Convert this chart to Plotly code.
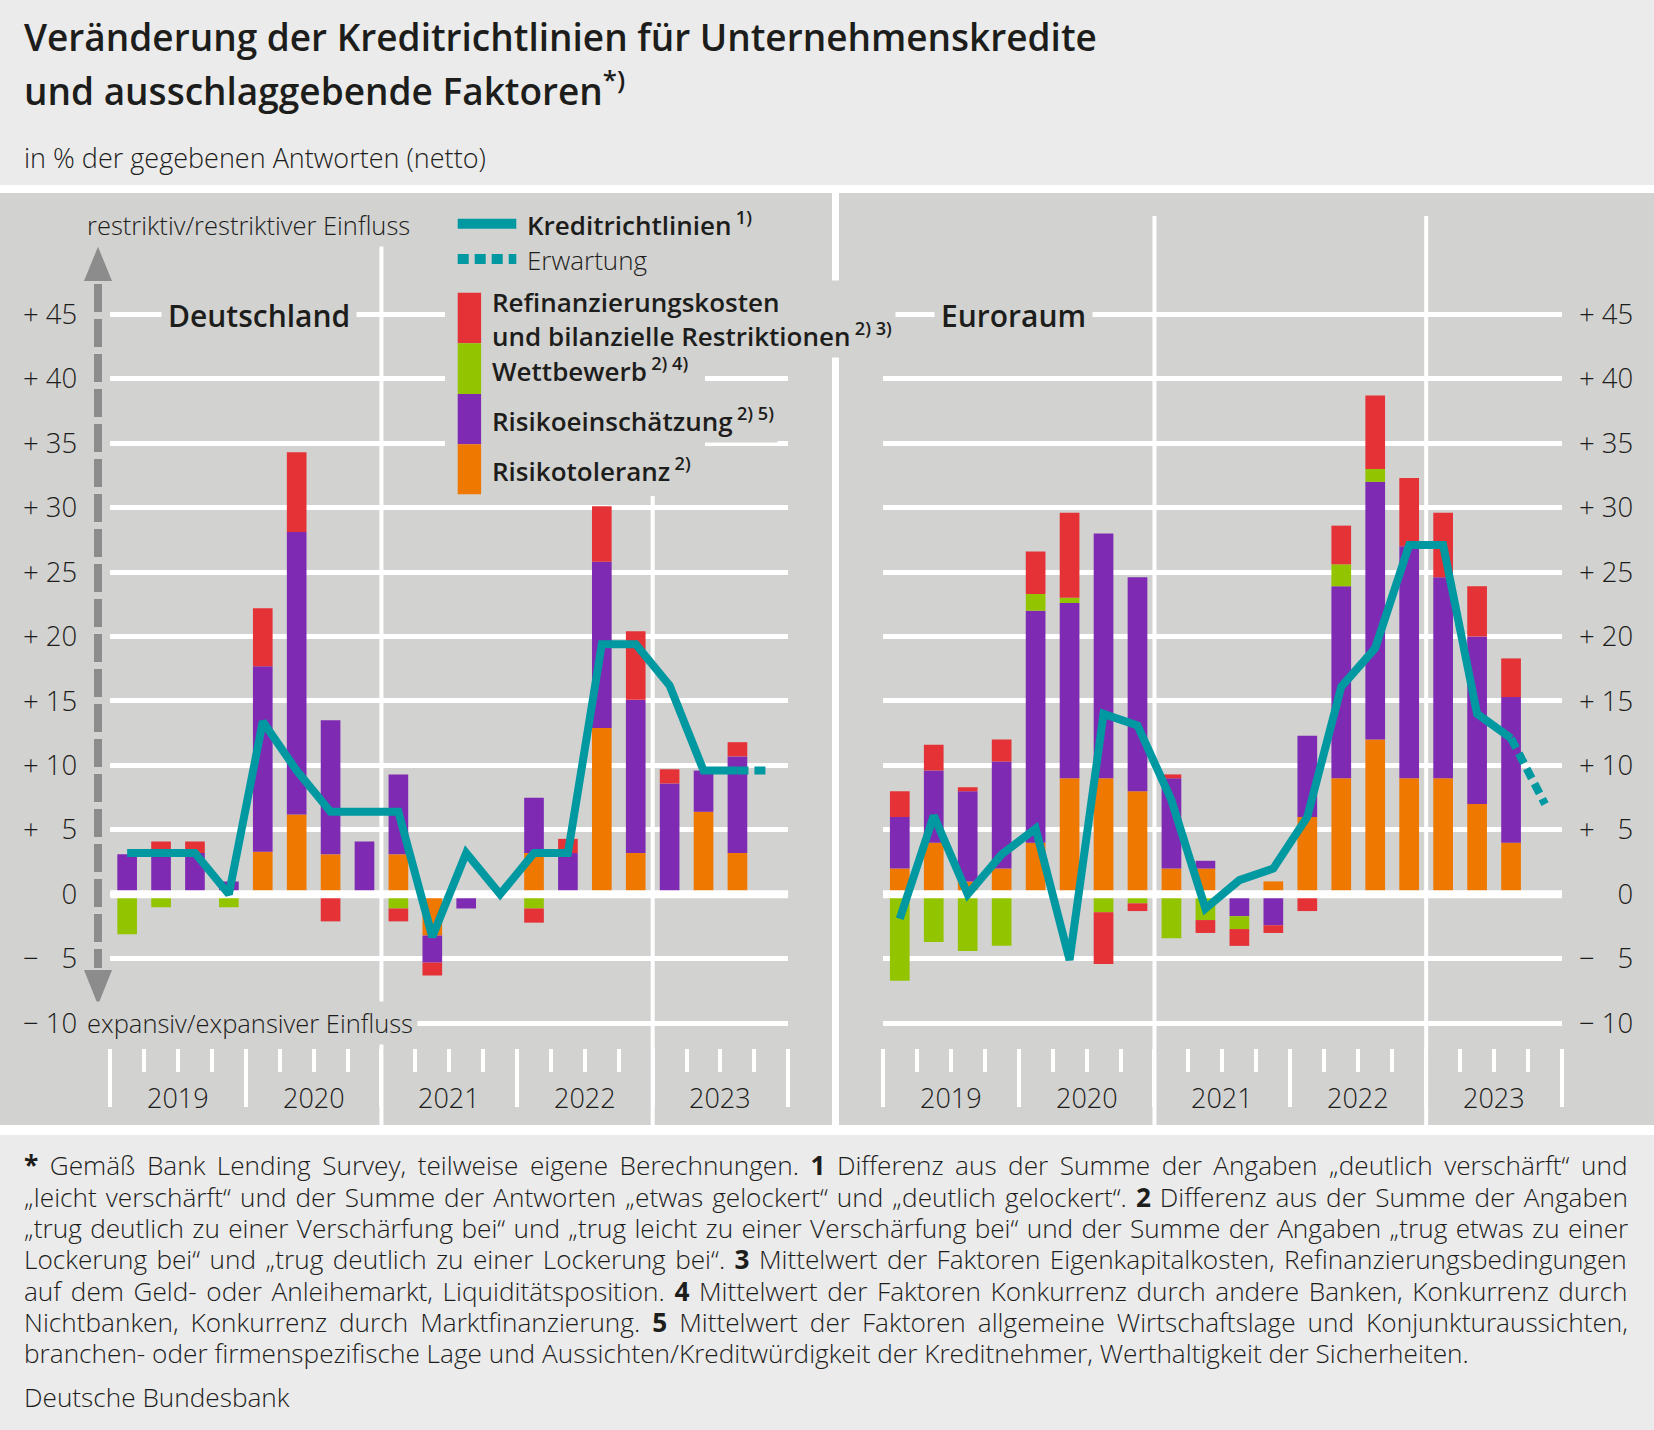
import plotly.graph_objects as go

# ---------------- data ----------------
quarters = ["2019 Q1", "2019 Q2", "2019 Q3", "2019 Q4",
            "2020 Q1", "2020 Q2", "2020 Q3", "2020 Q4",
            "2021 Q1", "2021 Q2", "2021 Q3", "2021 Q4",
            "2022 Q1", "2022 Q2", "2022 Q3", "2022 Q4",
            "2023 Q1", "2023 Q2", "2023 Q3", "2023 Q4"]
years = ["2019", "2020", "2021", "2022", "2023"]

# Deutschland (2019 Q1 - 2023 Q3)
de_risikotoleranz = [0, 0, 0, 0, 3.3, 6.2, 3.1, 0, 3.1, -3.2, 0, 0, 3.2, 0, 12.9, 3.2, 0, 6.4, 3.2]
de_risikoeinschaetzung = [3.1, 3.2, 3.2, 1.0, 14.4, 21.9, 10.4, 4.1, 6.2, -2.1, -1.1, 0, 4.3, 3.2, 12.9, 11.9, 8.6, 3.2, 7.5]
de_wettbewerb = [-3.1, -1.0, 0, -1.0, 0, 0, 0, 0, -1.1, 0, 0, 0, -1.1, 0, 0, 0, 0, 0, 0]
de_refinanzierung = [0, 0.9, 0.9, 0, 4.5, 6.2, -2.1, 0, -1.0, -1.0, 0, 0, -1.1, 1.1, 4.3, 5.3, 1.1, 0, 1.1]
de_kreditrichtlinien = [3.2, 3.2, 3.2, 0, 13.4, 9.6, 6.4, 6.4, 6.4, -3.3, 3.2, 0, 3.2, 3.2, 19.4, 19.4, 16.2, 9.6, 9.6]
de_erwartung = 9.6  # 2023 Q4

# Euroraum (2019 Q1 - 2023 Q3)
ea_risikotoleranz = [2.0, 4.0, 1.0, 2.0, 4.0, 9.0, 9.0, 8.0, 2.0, 2.0, 0, 1.0, 6.0, 9.0, 12.0, 9.0, 9.0, 7.0, 4.0]
ea_risikoeinschaetzung = [4.0, 5.6, 7.0, 8.3, 18.0, 13.6, 19.0, 16.6, 7.0, 0.6, -1.7, -2.4, 6.3, 14.9, 20.0, 18.0, 15.6, 13.0, 11.3]
ea_wettbewerb = [-6.7, -3.7, -4.4, -4.0, 1.3, 0.4, -1.4, -0.7, -3.4, -2.0, -1.0, 0, 0, 1.7, 1.0, 0, 0, 0, 0]
ea_refinanzierung = [2.0, 2.0, 0.3, 1.7, 3.3, 6.6, -4.0, -0.6, 0.3, -1.0, -1.3, -0.6, -1.3, 3.0, 5.7, 5.3, 5.0, 3.9, 3.0]
ea_kreditrichtlinien = [-1.9, 6.1, 0, 3.1, 5.1, -5.1, 14.0, 13.1, 7.3, -1.1, 1.1, 2.0, 6.0, 16.1, 19.1, 27.1, 27.1, 14.0, 12.1]
ea_erwartung = 7.0  # 2023 Q4

y_ticks = [-10, -5, 0, 5, 10, 15, 20, 25, 30, 35, 40, 45]

# ---------------- style ----------------
W, H = 1654, 1430
FONT = "Open Sans"
TXT = "#1d1d1b"
OUTER = "#ebebeb"
PANEL = "#d2d2d1"
TEAL = "#0098a1"
RED = "#e43237"
GREEN = "#92c400"
PURPLE = "#7f2ab2"
ORANGE = "#ef7800"
ARROW = "#8c8c8c"


def px(x):
    return x / W


def py(y):
    return 1 - y / H


X_DE = (110.2, 788.3)
X_EA = (882.8, 1562.0)
Y_TOP, Y_BOT = 216.0, 1047.7
Y_ZERO_PX, PX_PER_UNIT = 894.3, 12.89
y_range = [(Y_ZERO_PX - Y_BOT) / PX_PER_UNIT, (Y_ZERO_PX - Y_TOP) / PX_PER_UNIT]

n_q = len(quarters)
x_range = [0, n_q]
xpos = [i + 0.5 for i in range(n_q)]
n_obs = len(de_kreditrichtlinien)
year_bounds = list(range(0, n_q + 1, 4))
quarter_bounds = [b for b in range(n_q + 1) if b % 4]
year_centers = [b + 2 for b in year_bounds[:-1]]


def fmt_tick(v, pad_left=False):
    if v == 0:
        return ("\u2007\u00a0\u20070" if pad_left else "0")
    sign = "+" if v > 0 else "\u2212"
    num = str(abs(v))
    if len(num) == 1:
        num = "\u2007" + num
    return sign + "\u00a0" + num


fig = go.Figure()

panels = [
    ("x", "y", de_risikotoleranz, de_risikoeinschaetzung, de_wettbewerb, de_refinanzierung,
     de_kreditrichtlinien, de_erwartung),
    ("x2", "y2", ea_risikotoleranz, ea_risikoeinschaetzung, ea_wettbewerb, ea_refinanzierung,
     ea_kreditrichtlinien, ea_erwartung),
]

for xa, ya, tol, risk, wett, refi, line, exp in panels:
    for vals, col, nm in [(tol, ORANGE, "Risikotoleranz"),
                          (risk, PURPLE, "Risikoeinschätzung"),
                          (wett, GREEN, "Wettbewerb"),
                          (refi, RED, "Refinanzierungskosten und bilanzielle Restriktionen")]:
        fig.add_trace(go.Bar(x=xpos[:n_obs], y=vals, name=nm, marker=dict(color=col, line=dict(width=0)),
                             width=0.58, xaxis=xa, yaxis=ya, showlegend=False))
    # zero line (drawn over bars, under the credit-standards line)
    fig.add_trace(go.Scatter(x=x_range, y=[0, 0], mode="lines", line=dict(color="white", width=8),
                             xaxis=xa, yaxis=ya, hoverinfo="skip", showlegend=False))
    fig.add_trace(go.Scatter(x=xpos[:n_obs], y=line, mode="lines", name="Kreditrichtlinien",
                             line=dict(color=TEAL, width=8), xaxis=xa, yaxis=ya, showlegend=False))
    fig.add_trace(go.Scatter(x=[xpos[n_obs - 1], xpos[n_obs]], y=[line[-1], exp], mode="lines",
                             name="Erwartung", line=dict(color=TEAL, width=8, dash="11px,6px"),
                             xaxis=xa, yaxis=ya, showlegend=False))

tickfont = dict(family=FONT, size=27.5, color=TXT, weight=300)

xaxis_common = dict(range=x_range, showgrid=False, zeroline=False, showline=False, showticklabels=False,
                    ticks="outside", tickvals=year_bounds, ticklen=58, tickwidth=4, tickcolor="white",
                    minor=dict(tickvals=quarter_bounds, ticks="outside", ticklen=23, tickwidth=4,
                               tickcolor="white", showgrid=False),
                    fixedrange=True)
yaxis_common = dict(range=y_range, domain=[py(Y_BOT), py(Y_TOP)], tickvals=y_ticks, showgrid=True,
                    gridcolor="white", gridwidth=5, zeroline=False, showline=False, ticks="",
                    tickfont=tickfont, fixedrange=True)

fig.update_layout(
    width=W, height=H, margin=dict(l=0, r=0, t=0, b=0),
    paper_bgcolor=OUTER, plot_bgcolor="rgba(0,0,0,0)",
    barmode="relative", showlegend=False,
    xaxis=dict(domain=[px(X_DE[0]), px(X_DE[1])], anchor="y", **xaxis_common),
    xaxis2=dict(domain=[px(X_EA[0]), px(X_EA[1])], anchor="y2", **xaxis_common),
    yaxis=dict(anchor="x", ticktext=[fmt_tick(v) for v in y_ticks], ticklabelstandoff=32, **yaxis_common),
    yaxis2=dict(anchor="x2", side="right", ticktext=[fmt_tick(v, True) for v in y_ticks],
                ticklabelstandoff=16, **yaxis_common),
)

# ---------------- shapes ----------------
shapes = []


def rect(x0, y0, x1, y1, color, layer="below"):
    return dict(type="rect", xref="paper", yref="paper", x0=px(x0), x1=px(x1), y0=py(y1), y1=py(y0),
                fillcolor=color, line=dict(width=0), layer=layer)


shapes.append(rect(0, 185, W, 1135, "white"))
shapes.append(rect(0, 193, 832, 1125, PANEL))
shapes.append(rect(839, 193, W, 1125, PANEL))

for xa in ["x", "x2"]:
    for b in year_bounds[2:-1:2]:
        shapes.append(dict(type="line", xref=xa, yref="paper", x0=b, x1=b, y0=py(1125), y1=py(Y_TOP),
                           line=dict(color="white", width=4), layer="below"))

# legend background + swatches
shapes.append(rect(445, 205, 705, 496, PANEL, layer="above"))
shapes.append(dict(type="line", xref="paper", yref="paper", x0=px(457.7), x1=px(516.3),
                   y0=py(223.7), y1=py(223.7), line=dict(color=TEAL, width=10), layer="above"))
shapes.append(dict(type="line", xref="paper", yref="paper", x0=px(457.7), x1=px(516.3),
                   y0=py(259), y1=py(259), line=dict(color=TEAL, width=10, dash="11px,6px"), layer="above"))
for (y0, y1, col) in [(292.7, 343.3, RED), (343.3, 394.0, GREEN), (394.0, 444.3, PURPLE), (444.3, 494.3, ORANGE)]:
    shapes.append(rect(457.7, y0, 481.1, y1, col, layer="above"))

# vertical arrow
shapes.append(dict(type="line", xref="paper", yref="paper", x0=px(98), x1=px(98), y0=py(284), y1=py(968),
                   line=dict(color=ARROW, width=8, dash="28px,7px"), layer="above"))
shapes.append(dict(type="path", xref="paper", yref="paper",
                   path=f"M {px(98)} {py(246.7)} L {px(112)} {py(281)} L {px(84)} {py(281)} Z",
                   fillcolor=ARROW, line=dict(width=0), layer="above"))
shapes.append(dict(type="path", xref="paper", yref="paper",
                   path=f"M {px(98)} {py(1005)} L {px(112)} {py(970)} L {px(84)} {py(970)} Z",
                   fillcolor=ARROW, line=dict(width=0), layer="above"))

fig.update_layout(shapes=shapes)

# ---------------- annotations ----------------
ann = []


def text(x, y, s, size, weight=300, bg=None, xanchor="left", xref="paper", pad=1, color=TXT):
    d = dict(x=(px(x) if xref == "paper" else x), y=py(y), xref=xref, yref="paper", text=s,
             showarrow=False, xanchor=xanchor, yanchor="middle", align="left",
             font=dict(family=FONT, size=size, color=color, weight=weight), borderpad=pad)
    if bg:
        d["bgcolor"] = bg
    ann.append(d)


# title
text(22, 37, "Veränderung der Kreditrichtlinien für Unternehmenskredite", 37, 600)
text(22, 88, "und ausschlaggebende Faktoren<sup>*)</sup>", 37, 600)
text(22, 157, "in % der gegebenen Antworten (netto)", 27, 300)

# panel labels
text(161, 315, "Deutschland", 30, 600, bg=PANEL, pad=6)
text(934, 315, "Euroraum", 30, 600, bg=PANEL, pad=6)
text(82, 225, "restriktiv/restriktiver Einfluss", 25.5, 300, bg=PANEL, pad=4)
text(82, 1023, "expansiv/expansiver Einfluss", 25.5, 300, bg=PANEL, pad=4)

# legend
text(524, 224, "Kreditrichtlinien\u2009<sup>1)</sup>", 26, 600, bg=PANEL, pad=2)
text(524, 260, "Erwartung", 26, 300, bg=PANEL, pad=2)
text(488, 319, "Refinanzierungskosten<br>und bilanzielle Restriktionen\u2009<sup>2) 3)</sup>", 26, 600,
     bg=PANEL, pad=3)
text(488, 370, "Wettbewerb\u2009<sup>2) 4)</sup>", 26, 600, bg=PANEL, pad=3)
text(488, 420, "Risikoeinschätzung\u2009<sup>2) 5)</sup>", 26, 600, bg=PANEL, pad=3)
text(488, 470, "Risikotoleranz\u2009<sup>2)</sup>", 26, 600, bg=PANEL, pad=3)

# year labels
for xa in ["x", "x2"]:
    for yc, yl in zip(year_centers, years):
        text(yc, 1097, yl, 27, 300, xanchor="center", xref=xa)

# footnotes (justified via word spacing)
foot = [
    "<b>*</b> Gemäß Bank Lending Survey, teilweise eigene Berechnungen. <b>1</b> Differenz aus der Summe der Angaben „deutlich verschärft“ und",
    "„leicht verschärft“ und der Summe der Antworten „etwas gelockert“ und „deutlich gelockert“. <b>2</b> Differenz aus der Summe der Angaben",
    "„trug deutlich zu einer Verschärfung bei“ und „trug leicht zu einer Verschärfung bei“ und der Summe der Angaben „trug etwas zu einer",
    "Lockerung bei“ und „trug deutlich zu einer Lockerung bei“. <b>3</b> Mittelwert der Faktoren Eigenkapitalkosten, Refinanzierungsbedingungen",
    "auf dem Geld- oder Anleihemarkt, Liquiditätsposition. <b>4</b> Mittelwert der Faktoren Konkurrenz durch andere Banken, Konkurrenz durch",
    "Nichtbanken, Konkurrenz durch Marktfinanzierung. <b>5</b> Mittelwert der Faktoren allgemeine Wirtschaftslage und Konjunkturaussichten,",
    "branchen- oder firmenspezifische Lage und Aussichten/Kreditwürdigkeit der Kreditnehmer, Werthaltigkeit der Sicherheiten.",
]
foot_word_spacing = [4.7, 2.2, 1.5, 2.6, 2.8, 5.2, 0]
foot_y = [1165, 1196.7, 1228.3, 1259.3, 1290.7, 1321.7, 1353.3]
for s, ws, yv in zip(foot, foot_word_spacing, foot_y):
    text(23, yv, f'<span style="word-spacing:{ws}px">{s}</span>', 26.2, 300, pad=0)
text(23, 1396.7, "Deutsche Bundesbank", 26.2, 300, pad=0)

fig.update_layout(annotations=ann)

fig.write_html("out.html", config={"displayModeBar": False},
               post_script="document.body.style.margin='0';")
